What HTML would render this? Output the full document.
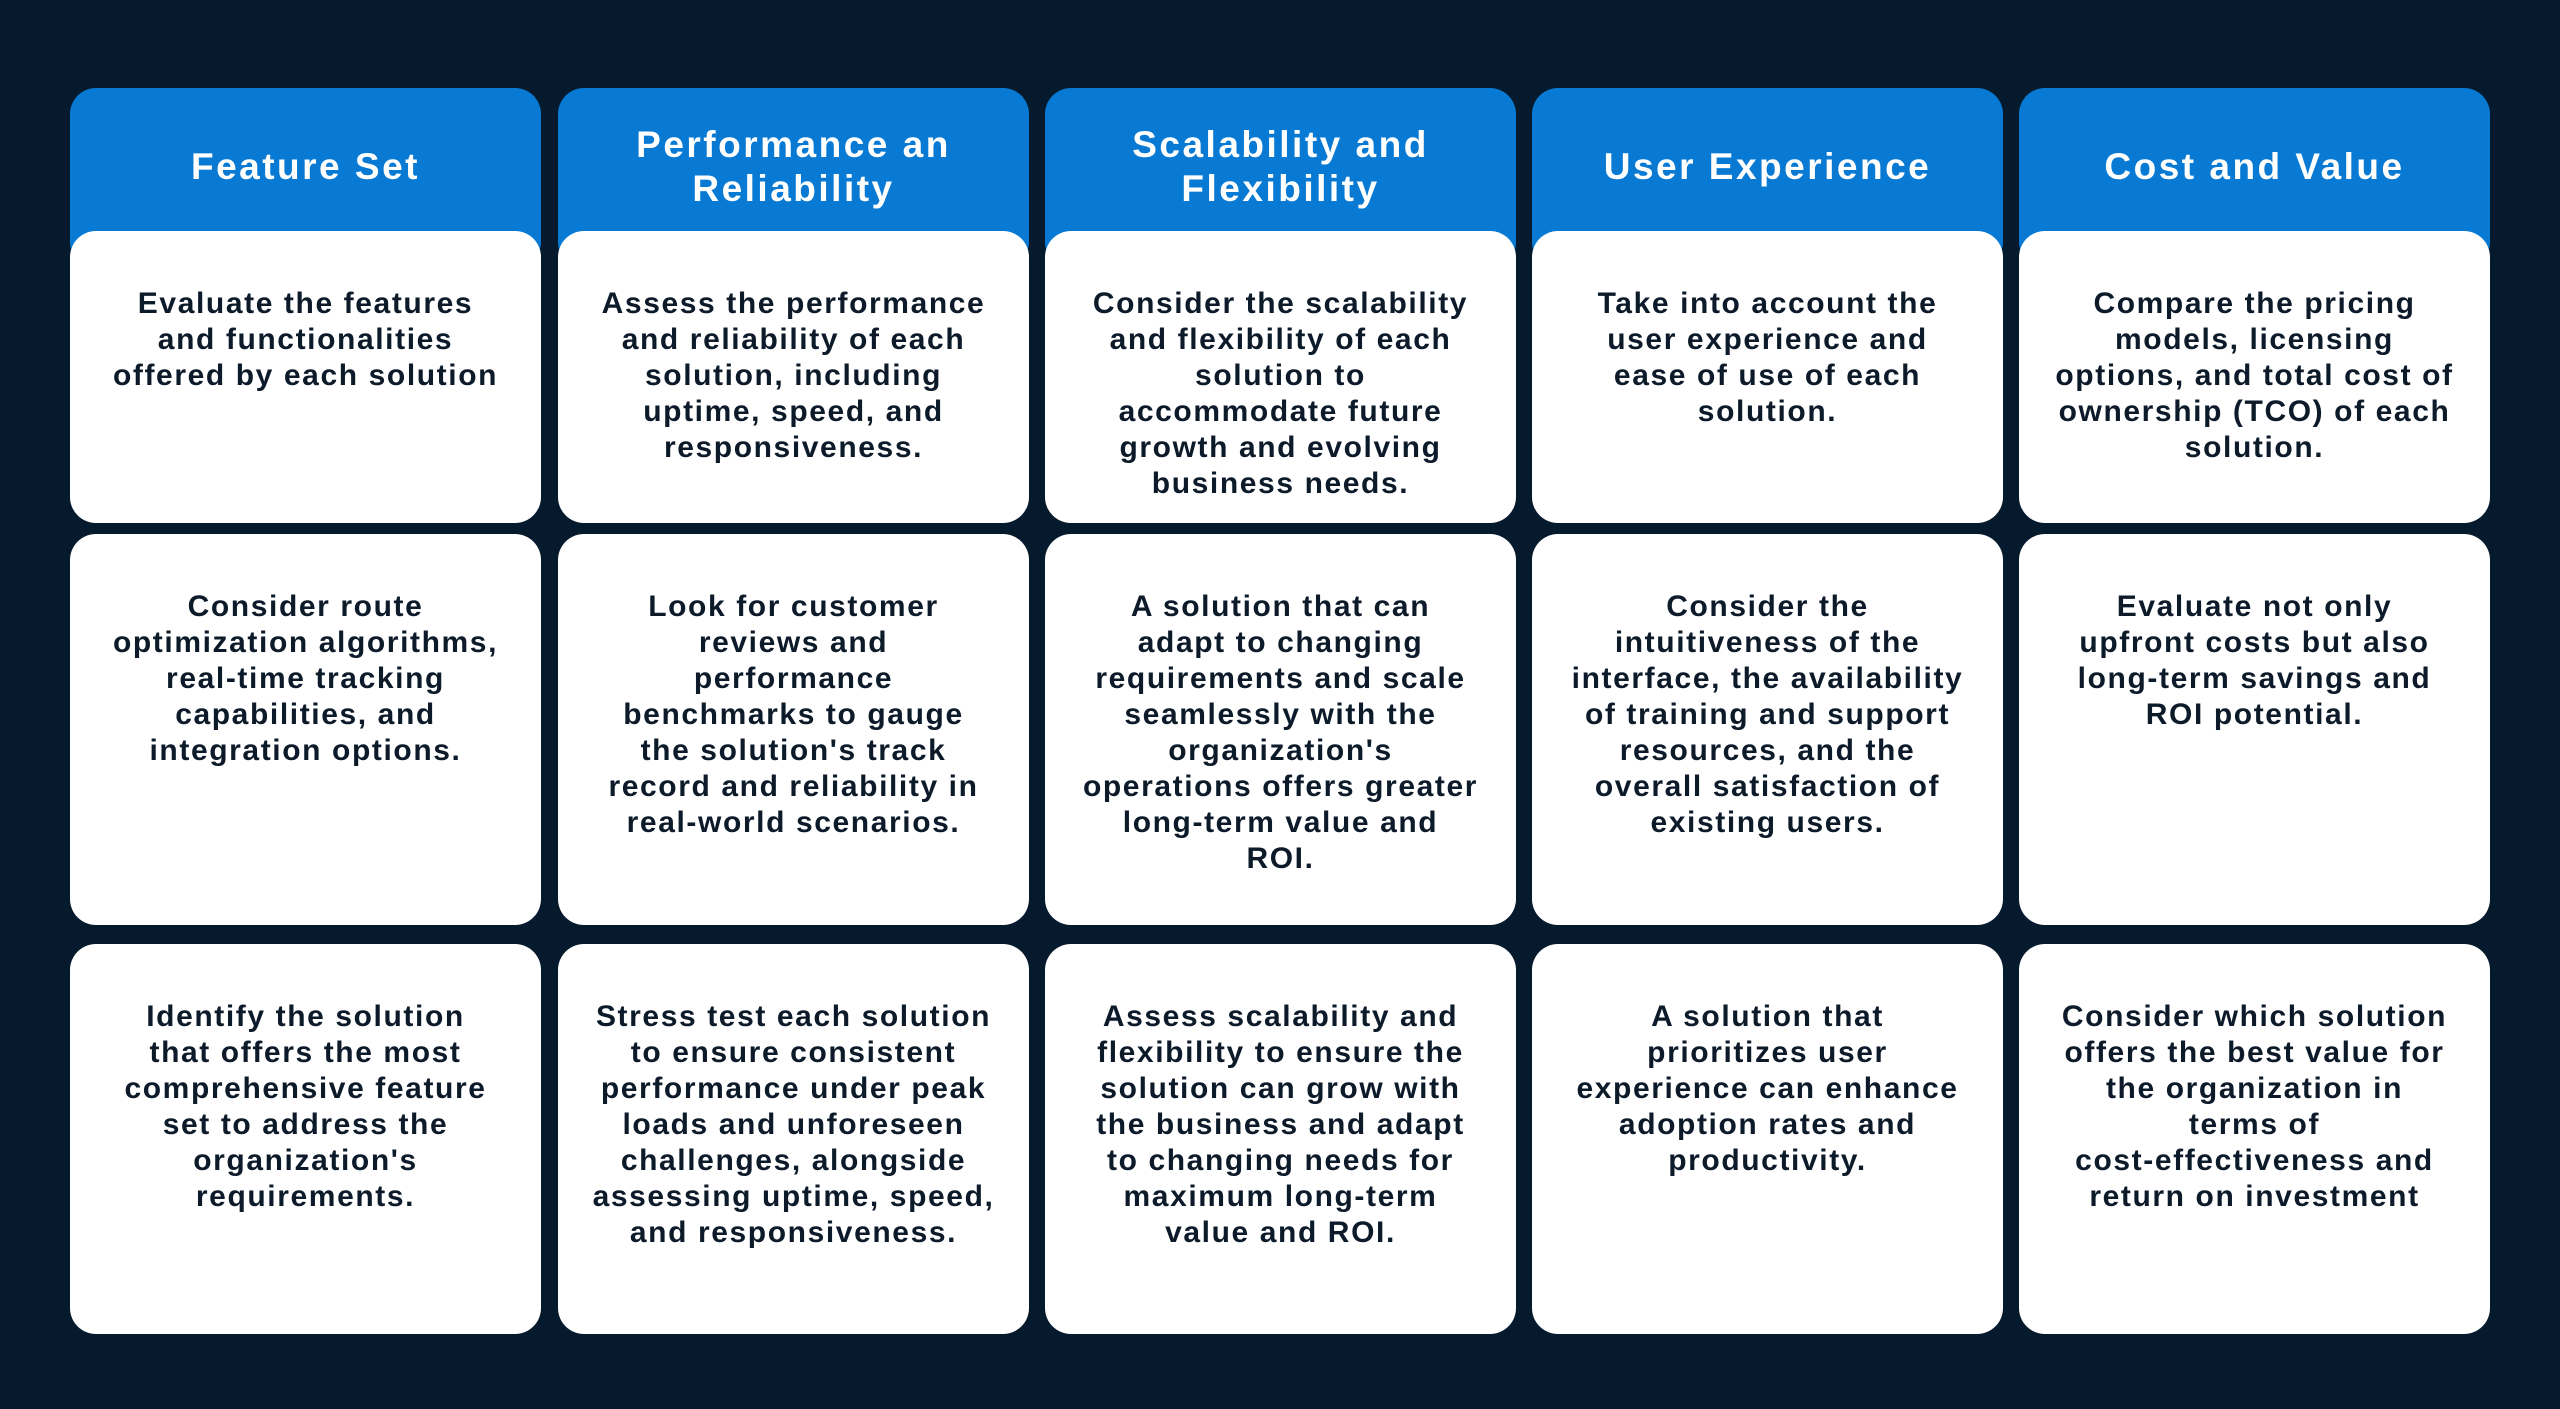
<!DOCTYPE html>
<html><head><meta charset="utf-8"><style>
html,body{margin:0;padding:0;}
body{width:2560px;height:1409px;background:#061a2d;position:relative;overflow:hidden;font-family:"Liberation Sans",sans-serif;}
.h{position:absolute;top:88px;height:180px;width:471px;background:#087ad3;border-radius:26px;color:#fff;font-weight:bold;font-size:37px;letter-spacing:2.5px;line-height:44px;text-align:center;box-sizing:border-box;display:flex;align-items:flex-start;justify-content:center;}
.h span{display:block;height:143px;padding-top:14px;box-sizing:border-box;display:flex;align-items:center;justify-content:center;}
.c{position:absolute;width:471px;background:#fff;border-radius:26px;color:#0c1a2a;font-weight:bold;font-size:30px;letter-spacing:1.6px;line-height:36px;text-align:center;box-sizing:border-box;padding-top:55px;white-space:nowrap;}
.r1{top:231px;height:292px;}
.r2{top:534px;height:391px;}
.r3{top:944px;height:390px;}
</style></head><body>
<div class="h" style="left:70px"><span>Feature Set</span></div>
<div class="h" style="left:558px"><span>Performance an<br>Reliability</span></div>
<div class="h" style="left:1045px"><span>Scalability and<br>Flexibility</span></div>
<div class="h" style="left:1532px"><span>User Experience</span></div>
<div class="h" style="left:2019px"><span>Cost and Value</span></div>

<div class="c r1" style="left:70px">Evaluate the features<br>and functionalities<br>offered by each solution</div>
<div class="c r1" style="left:558px">Assess the performance<br>and reliability of each<br>solution, including<br>uptime, speed, and<br>responsiveness.</div>
<div class="c r1" style="left:1045px">Consider the scalability<br>and flexibility of each<br>solution to<br>accommodate future<br>growth and evolving<br>business needs.</div>
<div class="c r1" style="left:1532px">Take into account the<br>user experience and<br>ease of use of each<br>solution.</div>
<div class="c r1" style="left:2019px">Compare the pricing<br>models, licensing<br>options, and total cost of<br>ownership (TCO) of each<br>solution.</div>

<div class="c r2" style="left:70px">Consider route<br>optimization algorithms,<br>real-time tracking<br>capabilities, and<br>integration options.</div>
<div class="c r2" style="left:558px">Look for customer<br>reviews and<br>performance<br>benchmarks to gauge<br>the solution's track<br>record and reliability in<br>real-world scenarios.</div>
<div class="c r2" style="left:1045px">A solution that can<br>adapt to changing<br>requirements and scale<br>seamlessly with the<br>organization's<br>operations offers greater<br>long-term value and<br>ROI.</div>
<div class="c r2" style="left:1532px">Consider the<br>intuitiveness of the<br>interface, the availability<br>of training and support<br>resources, and the<br>overall satisfaction of<br>existing users.</div>
<div class="c r2" style="left:2019px">Evaluate not only<br>upfront costs but also<br>long-term savings and<br>ROI potential.</div>

<div class="c r3" style="left:70px">Identify the solution<br>that offers the most<br>comprehensive feature<br>set to address the<br>organization's<br>requirements.</div>
<div class="c r3" style="left:558px">Stress test each solution<br>to ensure consistent<br>performance under peak<br>loads and unforeseen<br>challenges, alongside<br>assessing uptime, speed,<br>and responsiveness.</div>
<div class="c r3" style="left:1045px">Assess scalability and<br>flexibility to ensure the<br>solution can grow with<br>the business and adapt<br>to changing needs for<br>maximum long-term<br>value and ROI.</div>
<div class="c r3" style="left:1532px">A solution that<br>prioritizes user<br>experience can enhance<br>adoption rates and<br>productivity.</div>
<div class="c r3" style="left:2019px">Consider which solution<br>offers the best value for<br>the organization in<br>terms of<br>cost-effectiveness and<br>return on investment</div>
</body></html>
